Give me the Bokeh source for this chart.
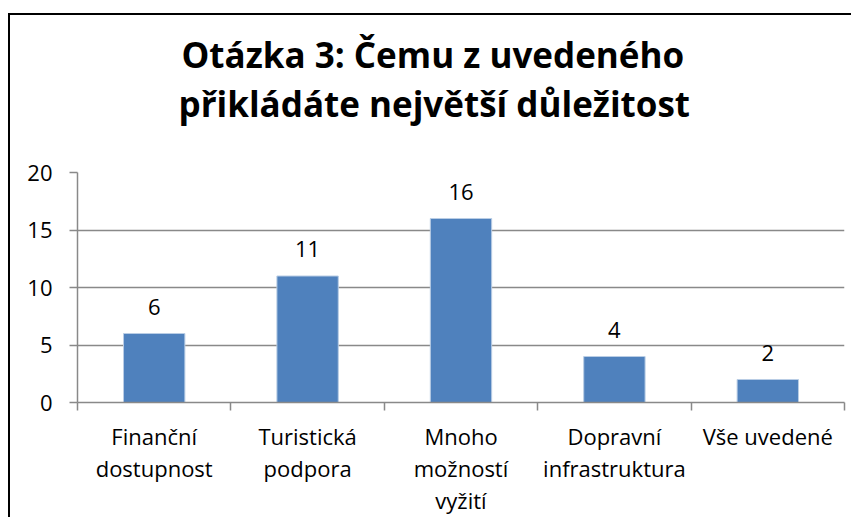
from bokeh.plotting import figure
from bokeh.models import (ColumnDataSource, Range1d, FixedTicker, LabelSet, Title)
from bokeh.core.properties import value
from bokeh.embed import file_html
from bokeh.resources import INLINE

# ---- data ----
categories = ["Finanční dostupnost", "Turistická podpora", "Mnoho možností vyžití",
              "Dopravní infrastruktura", "Vše uvedené"]
tick_labels = ["Finanční\ndostupnost", "Turistická\npodpora", "Mnoho\nmožností\nvyžití",
               "Dopravní\ninfrastruktura", "Vše uvedené"]
values = [6, 11, 16, 4, 2]
y_ticks = [0, 5, 10, 15, 20]
title_lines = ["Otázka 3: Čemu z uvedeného", "přikládáte největší důležitost"]

FONT = "Open Sans"
GRAY = "#898989"

xs = [i + 0.5 for i in range(len(categories))]
src = ColumnDataSource(dict(x=xs, top=values, label=[str(v) for v in values], cat=categories))

p = figure(width=843, height=504, output_backend="svg", toolbar_location=None,
           x_range=Range1d(0, len(categories)), y_range=Range1d(0, 20),
           title=None, min_border_left=67, min_border_right=9,
           min_border_bottom=117, min_border_top=157)
p.styles = {"margin-left": "8px", "margin-top": "13px",
            "border-left": "2px solid black", "border-top": "2px solid black"}

# titles (added bottom line first so the first line sits on top)
title_offsets = [104, 101]
for txt, off in reversed(list(zip(title_lines, title_offsets))):
    is_last = txt == title_lines[-1]
    t = Title(text=txt, align="left", offset=off, text_font=FONT, text_font_size="35px",
              text_font_style="bold", text_color="black", standoff=0,
              padding=dict(left=0, right=0, top=0, bottom=46 if is_last else 0))
    p.add_layout(t, "above")

p.vbar(x="x", top="top", width=0.4, source=src, fill_color="#4F81BD",
       line_color="#B9CDE5", line_width=1)

labels = LabelSet(x="x", y="top", text="label", source=src, text_align="center",
                  text_baseline="alphabetic", y_offset=19, text_font=value(FONT),
                  text_font_size=value("22px"), text_color="black")
p.add_layout(labels)

# y axis
p.yaxis.ticker = FixedTicker(ticks=y_ticks, minor_ticks=[])
p.yaxis.major_tick_out = 8
p.yaxis.major_tick_in = 0
p.yaxis.major_tick_line_color = GRAY
p.yaxis.major_tick_line_width = 1.5
p.yaxis.axis_line_color = GRAY
p.yaxis.axis_line_width = 1.5
p.yaxis.major_label_text_font = FONT
p.yaxis.major_label_text_font_size = "22px"
p.yaxis.major_label_text_color = "black"
p.yaxis.major_label_standoff = 17

# x axis: labels at centres, ticks between categories
p.xaxis.ticker = FixedTicker(ticks=xs, minor_ticks=list(range(len(categories) + 1)))
p.xaxis.major_label_overrides = {x: lab for x, lab in zip(xs, tick_labels)}
p.xaxis.major_tick_out = 0
p.xaxis.major_tick_in = 0
p.xaxis.minor_tick_out = 8
p.xaxis.minor_tick_in = 0
p.xaxis.minor_tick_line_color = GRAY
p.xaxis.minor_tick_line_width = 1.5
p.xaxis.axis_line_color = GRAY
p.xaxis.axis_line_width = 1.5
p.xaxis.major_label_text_font = FONT
p.xaxis.major_label_text_font_size = "22px"
p.xaxis.major_label_text_color = "black"
p.xaxis.major_label_text_line_height = 1.08
p.xaxis.major_label_standoff = 10

p.xgrid.grid_line_color = None
p.ygrid.grid_line_color = GRAY
p.ygrid.grid_line_width = 1.5
p.outline_line_color = None
p.background_fill_color = "white"
p.border_fill_color = "white"

open("out.html", "w").write(file_html(p, INLINE))
